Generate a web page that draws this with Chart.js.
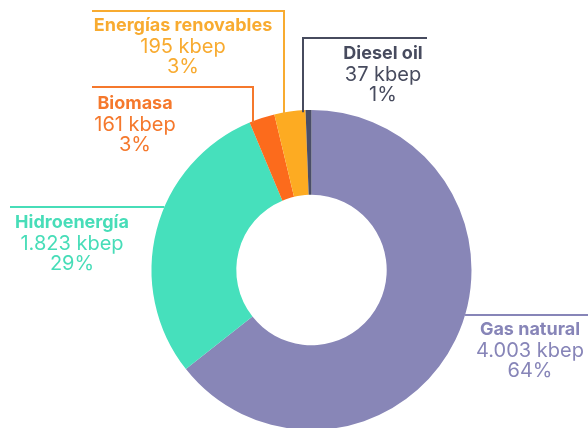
<!DOCTYPE html>
<html>
<head>
<meta charset="utf-8">
<script src="https://cdn.jsdelivr.net/npm/chart.js@4.4.0/dist/chart.umd.min.js"></script>
<style>
  html, body { margin: 0; padding: 0; background: #fff; overflow: hidden; }
  #wrap { width: 588px; height: 440px; }
</style>
</head>
<body>
<div id="wrap"><canvas id="chart"></canvas></div>
<script>
// data
const categories = ['Gas natural', 'Hidroenergía', 'Biomasa', 'Energías renovables', 'Diesel oil'];
const valuesKbep = [4003, 1823, 161, 195, 37];
const valueLabels = ['4.003 kbep', '1.823 kbep', '161 kbep', '195 kbep', '37 kbep'];
const percentLabels = ['64%', '29%', '3%', '3%', '1%'];

// styles
const sliceColors = ['#8886b7', '#46e0bc', '#fc6b1c', '#fdab22', '#4a4e67'];
const textColors = ['#8785b8', '#47ddb8', '#f5782c', '#f8ab30', '#474b5e'];

// where each label sits and how its leader line runs
// kind: 'right'/'left' = horizontal line to the ring, 'down' = elbow line down to the ring
const labelLayout = [
  { x: 530, y: 330, kind: 'right', ly: 315, end: 588 },
  { x: 72, y: 223, kind: 'left', ly: 207, end: 10 },
  { x: 135, y: 104, kind: 'down', ly: 87, from: 92, vx: 253 },
  { x: 183, y: 26, kind: 'down', ly: 11, from: 92, vx: 284 },
  { x: 383, y: 54, kind: 'down', ly: 38, from: 427, vx: 303 }
];

const labelPlugin = {
  id: 'sliceLabels',
  afterDraw(chart) {
    const ctx = chart.ctx;
    const arc = chart.getDatasetMeta(0).data[0];
    const cx = arc.x, cy = arc.y, R = arc.outerRadius;
    ctx.save();
    categories.forEach((name, i) => {
      const L = labelLayout[i];
      ctx.strokeStyle = textColors[i];
      ctx.lineWidth = 2;
      ctx.beginPath();
      if (L.kind === 'right') {
        const edge = cx + Math.sqrt(R * R - (L.ly - cy) * (L.ly - cy));
        ctx.moveTo(edge, L.ly);
        ctx.lineTo(L.end, L.ly);
      } else if (L.kind === 'left') {
        const edge = cx - Math.sqrt(R * R - (L.ly - cy) * (L.ly - cy));
        ctx.moveTo(L.end, L.ly);
        ctx.lineTo(edge, L.ly);
      } else {
        const ringY = cy - Math.sqrt(R * R - (L.vx - cx) * (L.vx - cx));
        ctx.moveTo(L.from, L.ly);
        ctx.lineTo(L.vx, L.ly);
        ctx.lineTo(L.vx, ringY + 2);
      }
      ctx.stroke();

      ctx.fillStyle = textColors[i];
      ctx.textAlign = 'center';
      ctx.textBaseline = 'middle';
      ctx.font = 'bold 18px Inter';
      ctx.fillText(name, L.x, L.y);
      ctx.font = '20px Inter';
      ctx.fillText(valueLabels[i], L.x, L.y + 21);
      ctx.fillText(percentLabels[i], L.x, L.y + 41);
    });
    ctx.restore();
  }
};

new Chart(document.getElementById('chart'), {
  type: 'doughnut',
  data: {
    labels: categories,
    datasets: [{
      data: valuesKbep,
      backgroundColor: sliceColors,
      borderWidth: 0
    }]
  },
  options: {
    responsive: true,
    maintainAspectRatio: false,
    animation: false,
    cutout: '47%',
    layout: { padding: { left: 151, right: 116, top: 110, bottom: 10 } },
    plugins: {
      legend: { display: false },
      tooltip: { enabled: false }
    }
  },
  plugins: [labelPlugin]
});
</script>
</body>
</html>
